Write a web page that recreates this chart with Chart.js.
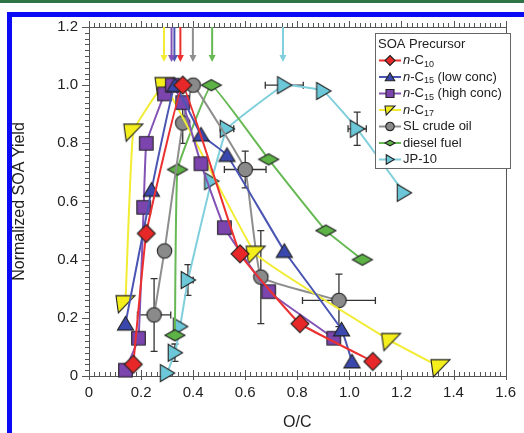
<!DOCTYPE html>
<html lang="en">
<head>
<meta charset="UTF-8">
<title>Normalized SOA Yield vs O/C</title>
<script src="https://cdn.jsdelivr.net/npm/chart.js@4"></script>
<style>
  body { margin: 0; background: #fff; }
  #wrap { position: relative; width: 524px; height: 433px; overflow: hidden; background: #fff; }
  #topLine { position: absolute; left: 0; top: 0; width: 524px; height: 3px; background: #2f7446; }
  #frame { position: absolute; left: 7px; top: 12px; width: 560px; height: 480px; border: 5px solid #0a0af5; box-sizing: border-box; }
  #chart { position: absolute; left: 0; top: 0; }
</style>
</head>
<body>
<div id="wrap">
  <div id="topLine"></div>
  <div id="frame"></div>
  <canvas id="chart" width="524" height="433"></canvas>
</div>

<script>
// values (x = O/C, y = normalized SOA yield)
const nC10_x = [0.17, 0.22, 0.36, 0.58, 0.81, 1.09];
const nC10_y = [0.04, 0.49, 1.00, 0.42, 0.18, 0.05];

const nC15low_x = [0.14, 0.24, 0.33, 0.43, 0.53, 0.75, 0.97, 1.01];
const nC15low_y = [0.18, 0.64, 1.00, 0.83, 0.76, 0.43, 0.16, 0.05];

const nC15high_x = [0.14, 0.19, 0.21, 0.22, 0.29, 0.32, 0.36, 0.43, 0.52, 0.69, 0.94];
const nC15high_y = [0.02, 0.13, 0.58, 0.80, 0.97, 1.00, 0.94, 0.73, 0.51, 0.29, 0.13];

const nC17_x = [0.14, 0.17, 0.29, 0.64, 1.16, 1.35];
const nC17_y = [0.25, 0.84, 1.00, 0.42, 0.12, 0.03];

const crude_x = [0.25, 0.29, 0.36, 0.40, 0.60, 0.66, 0.96];
const crude_y = [0.21, 0.43, 0.87, 1.00, 0.71, 0.34, 0.26];
const crude_xerr = [0.064, 0, 0, 0, 0.08, 0, 0.14];
const crude_yerr = [0.125, 0, 0.07, 0, 0.063, 0.16, 0.09];

const diesel_x = [0.33, 0.34, 0.47, 0.69, 0.91, 1.05];
const diesel_y = [0.14, 0.71, 1.00, 0.745, 0.50, 0.40];

const jp10_x = [0.30, 0.33, 0.35, 0.38, 0.47, 0.53, 0.75, 0.90, 1.03, 1.21];
const jp10_y = [0.01, 0.08, 0.17, 0.33, 0.67, 0.85, 1.00, 0.98, 0.85, 0.63];
const jp10_xerr = [0, 0, 0, 0.02, 0, 0.026, 0.073, 0, 0.035, 0];
const jp10_yerr = [0, 0.03, 0, 0.053, 0, 0, 0, 0, 0.057, 0];

// O/C at peak yield, marked by arrows along the top axis
const peakArrows = [0.351, 0.328, 0.317, 0.288, 0.399, 0.473, 0.745];

const legendLabels = ['n-C10', 'n-C15 (low conc)', 'n-C15 (high conc)', 'n-C17', 'SL crude oil', 'diesel fuel', 'JP-10'];

const series = [
  { x: nC10_x, y: nC10_y, line: '#ec3030', fill: '#e82828', shape: 'diamond', size: 9 },
  { x: nC15low_x, y: nC15low_y, line: '#4a55b3', fill: '#3a48ad', shape: 'triangle', size: 8.5 },
  { x: nC15high_x, y: nC15high_y, line: '#8352b5', fill: '#7b45ad', shape: 'square', size: 8.5 },
  { x: nC17_x, y: nC17_y, line: '#f2ec32', fill: '#f4ee1c', shape: 'corner', size: 9.5 },
  { x: crude_x, y: crude_y, line: '#8e8e8e', fill: '#8a8a8a', shape: 'circle', size: 8.5, xerr: crude_xerr, yerr: crude_yerr },
  { x: diesel_x, y: diesel_y, line: '#66b954', fill: '#5db346', shape: 'flatDiamond', size: 10 },
  { x: jp10_x, y: jp10_y, line: '#80cfdc', fill: '#6cc8d8', shape: 'right', size: 9, xerr: jp10_xerr, yerr: jp10_yerr }
];

function shapePath(ctx, shape, s) {
  ctx.beginPath();
  if (shape === 'diamond') {
    ctx.moveTo(0, -s); ctx.lineTo(s, 0); ctx.lineTo(0, s); ctx.lineTo(-s, 0);
  } else if (shape === 'flatDiamond') {
    ctx.moveTo(0, -0.55 * s); ctx.lineTo(s, 0); ctx.lineTo(0, 0.55 * s); ctx.lineTo(-s, 0);
  } else if (shape === 'triangle') {
    ctx.moveTo(0, -0.85 * s); ctx.lineTo(0.95 * s, 0.75 * s); ctx.lineTo(-0.95 * s, 0.75 * s);
  } else if (shape === 'square') {
    ctx.rect(-0.8 * s, -0.8 * s, 1.6 * s, 1.6 * s);
  } else if (shape === 'corner') {
    ctx.moveTo(-s, -0.8 * s); ctx.lineTo(s, -0.8 * s); ctx.lineTo(-0.75 * s, s);
  } else if (shape === 'circle') {
    ctx.arc(0, 0, 0.85 * s, 0, Math.PI * 2);
  } else if (shape === 'right') {
    ctx.moveTo(-0.75 * s, -0.95 * s); ctx.lineTo(0.85 * s, 0); ctx.lineTo(-0.75 * s, 0.95 * s);
  }
  ctx.closePath();
}

function drawMarker(ctx, shape, cx, cy, s, fill) {
  ctx.save();
  ctx.translate(cx, cy);
  shapePath(ctx, shape, s);
  ctx.fillStyle = fill;
  ctx.fill();
  ctx.strokeStyle = '#222';
  ctx.lineWidth = 1.1;
  ctx.stroke();
  ctx.restore();
}

function makeMarker(shape, s, fill) {
  const c = document.createElement('canvas');
  const n = Math.ceil(2 * s + 4);
  c.width = n; c.height = n;
  drawMarker(c.getContext('2d'), shape, n / 2, n / 2, s, fill);
  return c;
}

const FONT = '"Liberation Sans", Arial, Helvetica, sans-serif';
Chart.defaults.font.family = FONT;
Chart.defaults.color = '#222';

function drawLabel(ctx, label, x, y) {
  const m = label.match(/^n-C(\d+)(.*)$/);
  ctx.textBaseline = 'middle';
  ctx.textAlign = 'left';
  if (!m) {
    ctx.font = '13px ' + FONT;
    ctx.fillText(label, x, y);
    return;
  }
  ctx.font = 'italic 13px ' + FONT;
  ctx.fillText('n', x, y);
  x += ctx.measureText('n').width;
  ctx.font = '13px ' + FONT;
  ctx.fillText('-C', x, y);
  x += ctx.measureText('-C').width;
  ctx.font = '9px ' + FONT;
  ctx.fillText(m[1], x, y + 4);
  x += ctx.measureText(m[1]).width;
  ctx.font = '13px ' + FONT;
  ctx.fillText(m[2], x, y);
}

const decor = {
  id: 'decor',
  beforeDatasetsDraw(chart) {
    const { ctx, chartArea: a, scales: { x, y } } = chart;
    ctx.save();
    ctx.strokeStyle = '#555';
    ctx.lineWidth = 1;
    ctx.strokeRect(Math.round(a.left) + 0.5, Math.round(a.top) + 0.5, Math.round(a.right - a.left), Math.round(a.bottom - a.top));

    // tick marks
    ctx.beginPath();
    for (let i = 0; i <= 80; i++) {
      const px = Math.round(x.getPixelForValue(i / 50)) + 0.5;
      const major = i % 10 === 0;
      const b = Math.round(a.bottom), t = Math.round(a.top);
      ctx.moveTo(px, b + (major ? 4 : 0)); ctx.lineTo(px, b - (major ? 6 : 4));
      ctx.moveTo(px, t); ctx.lineTo(px, t - (major ? 6 : 4));
    }
    for (let i = 0; i <= 60; i++) {
      const py = Math.round(y.getPixelForValue(i / 50)) + 0.5;
      const major = i % 10 === 0;
      const l = Math.round(a.left);
      ctx.moveTo(l, py); ctx.lineTo(l - (major ? 7 : 4), py);
    }
    ctx.stroke();

    // error bars
    ctx.strokeStyle = '#333';
    ctx.lineWidth = 1.3;
    series.forEach(s => {
      if (!s.xerr) return;
      s.x.forEach((v, i) => {
        const px = x.getPixelForValue(v), py = y.getPixelForValue(s.y[i]);
        ctx.beginPath();
        if (s.xerr[i]) {
          const l = x.getPixelForValue(v - s.xerr[i]), r = x.getPixelForValue(v + s.xerr[i]);
          ctx.moveTo(l, py); ctx.lineTo(r, py);
          ctx.moveTo(l, py - 3.5); ctx.lineTo(l, py + 3.5);
          ctx.moveTo(r, py - 3.5); ctx.lineTo(r, py + 3.5);
        }
        if (s.yerr[i]) {
          const tp = y.getPixelForValue(s.y[i] + s.yerr[i]), bt = y.getPixelForValue(s.y[i] - s.yerr[i]);
          ctx.moveTo(px, tp); ctx.lineTo(px, bt);
          ctx.moveTo(px - 3.5, tp); ctx.lineTo(px + 3.5, tp);
          ctx.moveTo(px - 3.5, bt); ctx.lineTo(px + 3.5, bt);
        }
        ctx.stroke();
      });
    });

    // peak arrows
    peakArrows.forEach((v, i) => {
      const px = x.getPixelForValue(v);
      const top = y.getPixelForValue(1.2), tip = y.getPixelForValue(1.08);
      ctx.strokeStyle = series[i].line;
      ctx.fillStyle = series[i].line;
      ctx.lineWidth = 2;
      ctx.beginPath();
      ctx.moveTo(px, top); ctx.lineTo(px, tip - 5);
      ctx.stroke();
      ctx.beginPath();
      ctx.moveTo(px - 3.5, tip - 7); ctx.lineTo(px + 3.5, tip - 7); ctx.lineTo(px, tip);
      ctx.closePath();
      ctx.fill();
    });
    ctx.restore();
  },
  afterDatasetsDraw(chart) {
    const ctx = chart.ctx;
    ctx.save();
    ctx.fillStyle = '#fff';
    ctx.fillRect(375, 33, 135, 135);
    ctx.strokeStyle = '#666';
    ctx.lineWidth = 1;
    ctx.strokeRect(375.5, 33.5, 135, 135);
    ctx.fillStyle = '#222';
    ctx.font = '13px ' + FONT;
    ctx.textBaseline = 'middle';
    ctx.fillText('SOA Precursor', 378, 44);
    legendLabels.forEach((lab, i) => {
      const ly = 60.5 + i * 16.5;
      ctx.strokeStyle = series[i].line;
      ctx.lineWidth = 2;
      ctx.beginPath();
      ctx.moveTo(379, ly); ctx.lineTo(401, ly);
      ctx.stroke();
      drawMarker(ctx, series[i].shape, 390, ly, 5, series[i].fill);
      ctx.fillStyle = '#222';
      drawLabel(ctx, lab, 403, ly);
    });
    ctx.restore();
  }
};

const fmt = v => Math.abs(v) < 1e-9 ? '0' : v.toFixed(1);

new Chart(document.getElementById('chart'), {
  type: 'scatter',
  data: {
    datasets: series.map((s, i) => ({
      label: legendLabels[i],
      data: s.x.map((v, k) => ({ x: v, y: s.y[k] })),
      showLine: true,
      borderColor: s.line,
      borderWidth: 2,
      tension: 0.08,
      clip: false,
      pointStyle: makeMarker(s.shape, s.size, s.fill),
      pointRadius: s.size,
      pointHoverRadius: s.size
    }))
  },
  options: {
    responsive: false,
    animation: false,
    layout: { padding: { left: 8, top: 27, right: 13, bottom: 0 } },
    plugins: { legend: { display: false }, tooltip: { enabled: false } },
    scales: {
      x: {
        type: 'linear', min: 0, max: 1.6,
        grid: { display: false, drawTicks: false },
        border: { display: false },
        ticks: { stepSize: 0.2, padding: 8, font: { size: 15 }, color: '#222', maxRotation: 0, callback: fmt },
        title: { display: true, text: 'O/C', font: { size: 16 }, color: '#222', padding: { top: 0, bottom: 1 } },
        afterFit: s => { s.height = 57; }
      },
      y: {
        type: 'linear', min: 0, max: 1.2,
        grid: { display: false, drawTicks: false },
        border: { display: false },
        ticks: { stepSize: 0.2, padding: 11, font: { size: 15 }, color: '#222', callback: fmt },
        title: { display: true, text: 'Normalized SOA Yield', font: { size: 16 }, color: '#222', padding: { top: 2, bottom: 0 } },
        afterFit: s => { s.width = 81; }
      }
    }
  },
  plugins: [decor]
});
</script>
</body>
</html>
